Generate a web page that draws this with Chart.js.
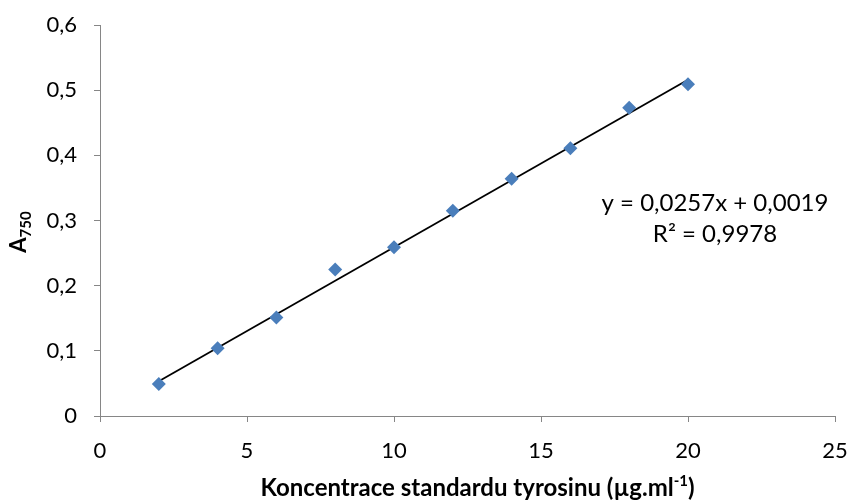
<!DOCTYPE html>
<html>
<head>
<meta charset="utf-8">
<script src="https://cdn.jsdelivr.net/npm/chart.js@4.4.1/dist/chart.umd.min.js"></script>
<style>
    html, body { margin: 0; padding: 0; background: #ffffff; }
    #wrap { width: 847px; height: 502px; }
</style>
</head>
<body>
<div id="wrap"><canvas id="calibChart" width="847" height="502"></canvas></div>
<script>
// Standard concentrations (µg/ml) and measured absorbance at 750 nm
const concentrations = [2, 4, 6, 8, 10, 12, 14, 16, 18, 20];
const absorbance = [0.049, 0.104, 0.151, 0.225, 0.259, 0.315, 0.364, 0.411, 0.473, 0.509];

// Linear fit as reported on the chart
const slope = 0.0257;
const intercept = 0.0019;
const rSquared = 0.9978;

const xTicks = [0, 5, 10, 15, 20, 25];
const yTicks = [0, 0.1, 0.2, 0.3, 0.4, 0.5, 0.6];

const FONT = 'Lato, "Open Sans", sans-serif';
const axisGrey = '#868686';

function comma(v) {
    return String(Number(v.toFixed(4))).replace('.', ',');
}

const trendPoints = [concentrations[0], concentrations[concentrations.length - 1]]
    .map(x => ({ x: x, y: slope * x + intercept }));

// Axis titles with sub/superscripts and the regression equation
const textPlugin = {
    id: 'chartText',
    afterDraw(chart) {
        const ctx = chart.ctx;
        const area = chart.chartArea;
        ctx.save();
        ctx.fillStyle = '#000000';
        ctx.textBaseline = 'alphabetic';

        // x axis title: Koncentrace standardu tyrosinu (µg.ml-1)
        const main = 'Koncentrace standardu tyrosinu (µg.ml';
        ctx.font = 'bold 24px ' + FONT;
        const wMain = ctx.measureText(main).width;
        ctx.font = 'bold 15px ' + FONT;
        const wSup = ctx.measureText('-1').width;
        ctx.font = 'bold 24px ' + FONT;
        const wEnd = ctx.measureText(')').width;
        let x0 = (area.left + area.right) / 2 + 10 - (wMain + wSup + wEnd) / 2;
        const base = 496;
        ctx.textAlign = 'left';
        ctx.fillText(main, x0, base);
        ctx.font = 'bold 15px ' + FONT;
        ctx.fillText('-1', x0 + wMain, base - 10);
        ctx.font = 'bold 24px ' + FONT;
        ctx.fillText(')', x0 + wMain + wSup, base);

        // y axis title: A750
        ctx.translate(26, 232);
        ctx.rotate(-Math.PI / 2);
        ctx.font = 'bold 22px ' + FONT;
        const wA = ctx.measureText('A').width;
        ctx.font = 'bold 15px ' + FONT;
        const wSub = ctx.measureText('750').width;
        const startA = -(wA + wSub) / 2;
        ctx.font = 'bold 22px ' + FONT;
        ctx.fillText('A', startA, 0);
        ctx.font = 'bold 15px ' + FONT;
        ctx.fillText('750', startA + wA, 5);
        ctx.setTransform(1, 0, 0, 1, 0, 0);

        // regression equation
        ctx.font = '24px ' + FONT;
        ctx.textAlign = 'center';
        const cx = area.right - 120;
        const eq = 'y = ' + comma(slope) + 'x + ' + comma(intercept);
        ctx.fillText(eq, cx, 211);
        ctx.fillText('R² = ' + comma(rSquared), cx, 242);
        ctx.restore();
    }
};

const ctx = document.getElementById('calibChart').getContext('2d');
const calibChart = new Chart(ctx, {
    type: 'scatter',
    data: {
        datasets: [
            {
                label: 'Lineární',
                type: 'line',
                data: trendPoints,
                borderColor: '#000000',
                borderWidth: 1.8,
                pointRadius: 0,
                fill: false,
                order: 2
            },
            {
                label: 'A750',
                data: concentrations.map((x, i) => ({ x: x, y: absorbance[i] })),
                pointStyle: 'rectRot',
                pointRadius: 7,
                backgroundColor: '#4A7EBB',
                borderColor: '#4A7EBB',
                borderWidth: 0,
                order: 1
            }
        ]
    },
    plugins: [textPlugin],
    options: {
        responsive: false,
        animation: false,
        layout: { padding: { top: 25, right: 12, left: 0, bottom: 0 } },
        plugins: {
            legend: { display: false },
            tooltip: { enabled: false }
        },
        scales: {
            x: {
                type: 'linear',
                min: xTicks[0],
                max: xTicks[xTicks.length - 1],
                afterBuildTicks: s => { s.ticks = xTicks.map(v => ({ value: v })); },
                afterFit: s => { s.height = 86; s.paddingLeft = 0; s.paddingRight = 0; },
                grid: { drawOnChartArea: false, drawTicks: true, tickLength: 6, color: axisGrey },
                border: { color: axisGrey, width: 1 },
                ticks: {
                    color: '#000000',
                    font: { family: FONT, size: 22 },
                    padding: 16,
                    maxRotation: 0,
                    callback: v => comma(v)
                }
            },
            y: {
                type: 'linear',
                min: yTicks[0],
                max: yTicks[yTicks.length - 1],
                afterBuildTicks: s => { s.ticks = yTicks.map(v => ({ value: v })); },
                afterFit: s => { s.width = 100; s.paddingTop = 0; s.paddingBottom = 0; },
                grid: { drawOnChartArea: false, drawTicks: true, tickLength: 6, color: axisGrey },
                border: { color: axisGrey, width: 1 },
                ticks: {
                    color: '#000000',
                    font: { family: FONT, size: 22 },
                    padding: 17,
                    callback: v => comma(v)
                }
            }
        }
    }
});
</script>
</body>
</html>
